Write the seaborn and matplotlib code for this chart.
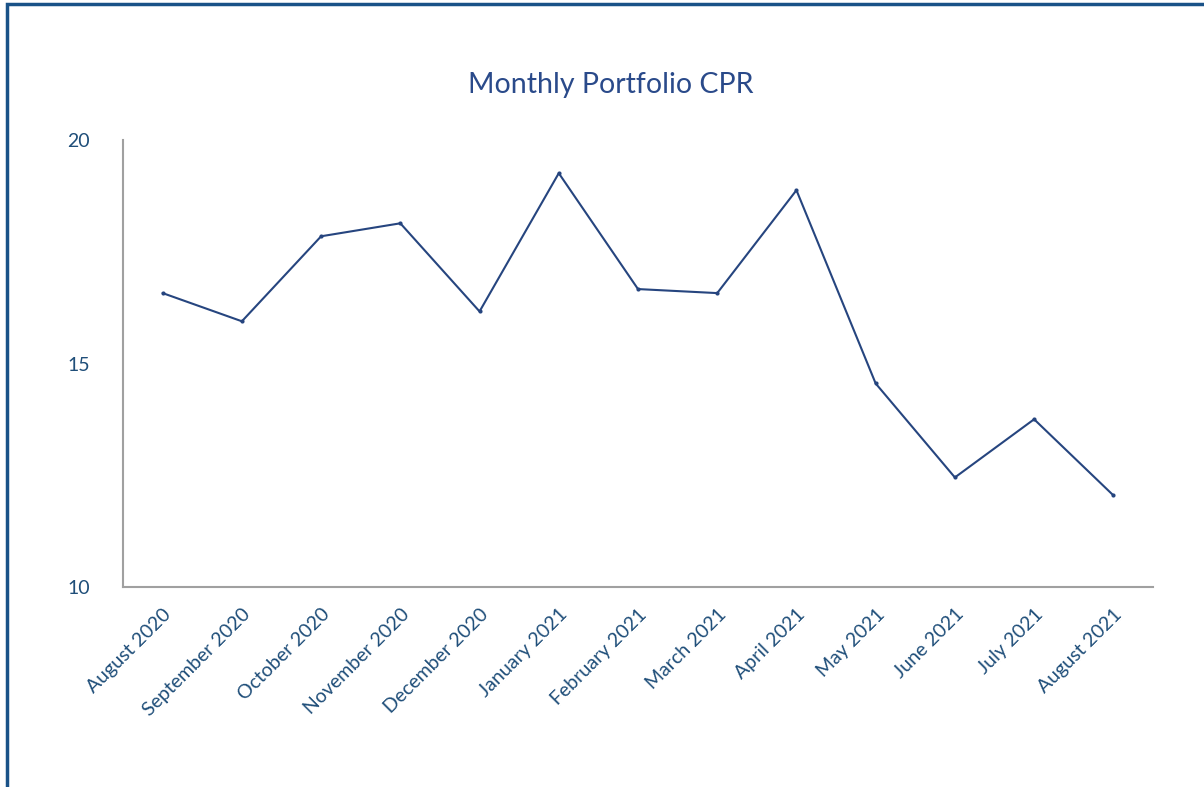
import matplotlib
matplotlib.use("Agg")
import matplotlib.pyplot as plt
import seaborn as sns
import pandas as pd
from matplotlib.patches import Rectangle

months = ["August 2020", "September 2020", "October 2020", "November 2020",
          "December 2020", "January 2021", "February 2021", "March 2021",
          "April 2021", "May 2021", "June 2021", "July 2021", "August 2021"]
cpr = [16.58, 15.95, 17.85, 18.14, 16.17, 19.26, 16.67, 16.58,
       18.88, 14.56, 12.46, 13.76, 12.06]
y_ticks = [10, 15, 20]

line_color = "#26457f"
text_color = "#1f4e79"

sns.set_style("white")
plt.rcParams['font.family'] = ['Lato', 'DejaVu Sans']

df = pd.DataFrame({"month": months, "cpr": cpr})
df["pos"] = range(len(df))

fig = plt.figure(figsize=(12.04, 7.87), dpi=100)
ax = fig.add_axes([0.1022, 0.2535, 0.8554, 0.5685])

sns.lineplot(data=df, x="pos", y="cpr", ax=ax, color=line_color, linewidth=1.5,
             marker="o", markersize=3, markeredgewidth=0)

ax.set_xlim(-0.5, len(months) - 0.5)
ax.set_ylim(10, 20)
ax.set_yticks(y_ticks)
ax.set_xticks(df["pos"])
ax.set_xticklabels(months, rotation=45, ha="right", rotation_mode="anchor")
ax.set_xlabel("")
ax.set_ylabel("")
ax.tick_params(axis="both", length=0, colors=text_color, labelsize=14)
ax.tick_params(axis="y", pad=24)
ax.tick_params(axis="x", pad=13)

sns.despine(ax=ax)
for side in ["left", "bottom"]:
    ax.spines[side].set_color("#a0a0a0")
    ax.spines[side].set_linewidth(1.5)

fig.text(0.507, 0.892, "Monthly Portfolio CPR", ha="center", va="center",
         fontsize=20.5, color="#2a4a8a")

# chart frame (only left and top edges are visible in the crop)
fig.patches.append(Rectangle((0.0058, -0.1), 1.2, 1.0945, transform=fig.transFigure,
                             fill=False, edgecolor="#1a5288", linewidth=2.5))

fig.savefig("out.png", dpi=100)
